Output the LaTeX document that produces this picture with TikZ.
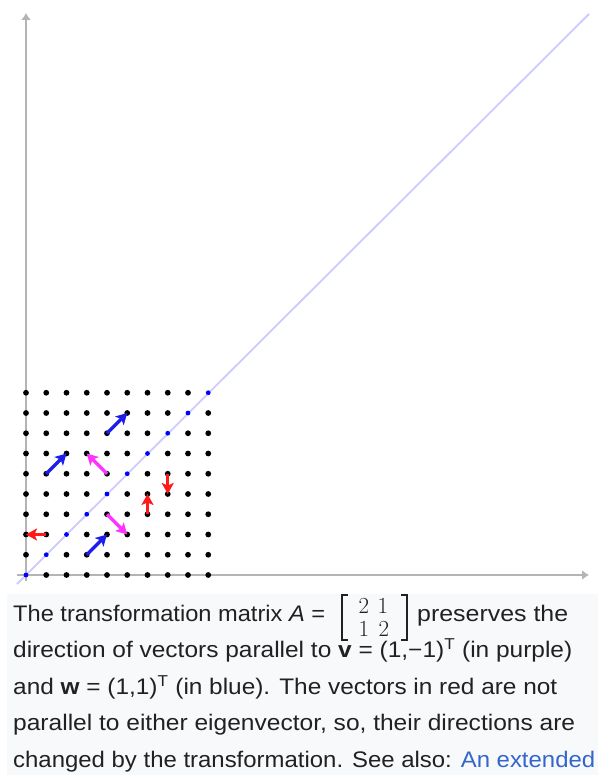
\documentclass[tikz,border=0pt]{standalone}
\usepackage{fontspec}
\setsansfont{Liberation Sans}
\usepackage{graphicx}
\usetikzlibrary{arrows.meta}
\definecolor{capbg}{HTML}{F8F9FA}
\definecolor{captext}{HTML}{202122}
\definecolor{linkblue}{HTML}{3366CC}
\definecolor{axisgray}{HTML}{B4B4B4}
\definecolor{diagblue}{HTML}{CCCCFF}
\definecolor{vecblue}{HTML}{1E1EEB}
\definecolor{vecmag}{HTML}{FF33FF}
\definecolor{vecred}{HTML}{FF1A1A}
\newcommand\capfont{\sffamily\fontsize{22.5}{27}\selectfont}
\begin{document}
\begin{tikzpicture}[x=1pt,y=-1pt,
  axis/.style={draw=axisgray,line width=2.4pt,-{Latex[length=7pt,width=10pt]}},
  diag/.style={draw=diagblue,line width=1.8pt},
  vec/.style={line width=3.4pt,-{Stealth[length=11pt,width=12pt,inset=2.5pt]}},
  capline/.style={anchor=base west,inner sep=0pt,text=captext,font=\capfont},
  digit/.style={anchor=base,inner sep=0pt,text=captext,font=\rmfamily\fontsize{23}{23}\selectfont},
  brk/.style={draw=captext,line width=1.7pt}]
\useasboundingbox (0,0) rectangle (598,775);
\fill[white] (0,0) rectangle (598,775);
% caption background
\fill[capbg] (7,594) rectangle (598,775);
% grid coordinates
\foreach \i in {0,...,9}{\foreach \j in {0,...,9}{
  \coordinate (p\i\j) at ({26+20.25*\i},{575-20.25*\j});}}
\coordinate (ybot) at (26,581);
\coordinate (ytop) at (26,13);
\coordinate (xlft) at (17,575);
\coordinate (xrgt) at (589,575);
\coordinate (dlo) at (17,584);
\coordinate (dhi) at (589,14);
% axes
\draw[axis] (ybot) -- (ytop);
\draw[axis] (xlft) -- (xrgt);
% eigen line
\draw[diag] (dlo) -- (dhi);
% dots
\foreach \i in {0,...,9}{\foreach \j in {0,...,9}{
  \ifnum\i=\j
    \fill[blue] (p\i\j) circle (2.4pt);
  \else
    \fill[black] (p\i\j) circle (2.9pt);
  \fi}}
% vectors
\draw[vec,vecblue] (p47) -- (p58);
\draw[vec,vecblue] (p15) -- (p26);
\draw[vec,vecblue] (p31) -- (p42);
\draw[vec,vecmag] (p45) -- (p36);
\draw[vec,vecmag] (p43) -- (p52);
\draw[vec,vecred] (p63) -- (p64);
\draw[vec,vecred] (p75) -- (p74);
\draw[vec,vecred] (p12) -- (p02);
% caption
\node[capline] (l1a) at (13,621) {\resizebox{312pt}{\height}{The transformation matrix \textit{A} =}};
\draw[brk] (348,595) -- (342,595) -- (342,640) -- (348,640);
\draw[brk] (401,595) -- (407,595) -- (407,640) -- (401,640);
\node[digit] (m11) at (364,613) {2};
\node[digit] (m12) at (383,613) {1};
\node[digit] (m21) at (364,636) {1};
\node[digit] (m22) at (384,636) {2};
\node[capline] (l1b) at (417,621) {\resizebox{151pt}{\height}{preserves the}};
\node[capline] (l2) at (13,657.5) {\resizebox{559pt}{\height}{direction of vectors parallel to \textbf{v} = (1,−1)\textsuperscript{T} (in purple)}};
\node[capline] (l3) at (13,694) {\resizebox{544pt}{\height}{and \textbf{w} = (1,1)\textsuperscript{T} (in blue). The vectors in red are not}};
\node[capline] (l4) at (13,730.5) {\resizebox{562pt}{\height}{parallel to either eigenvector, so, their directions are}};
\node[capline] (l5) at (13,767) {\resizebox{582pt}{\height}{changed by the transformation. See also: \textcolor{linkblue}{An extended}}};
\end{tikzpicture}
\end{document}
